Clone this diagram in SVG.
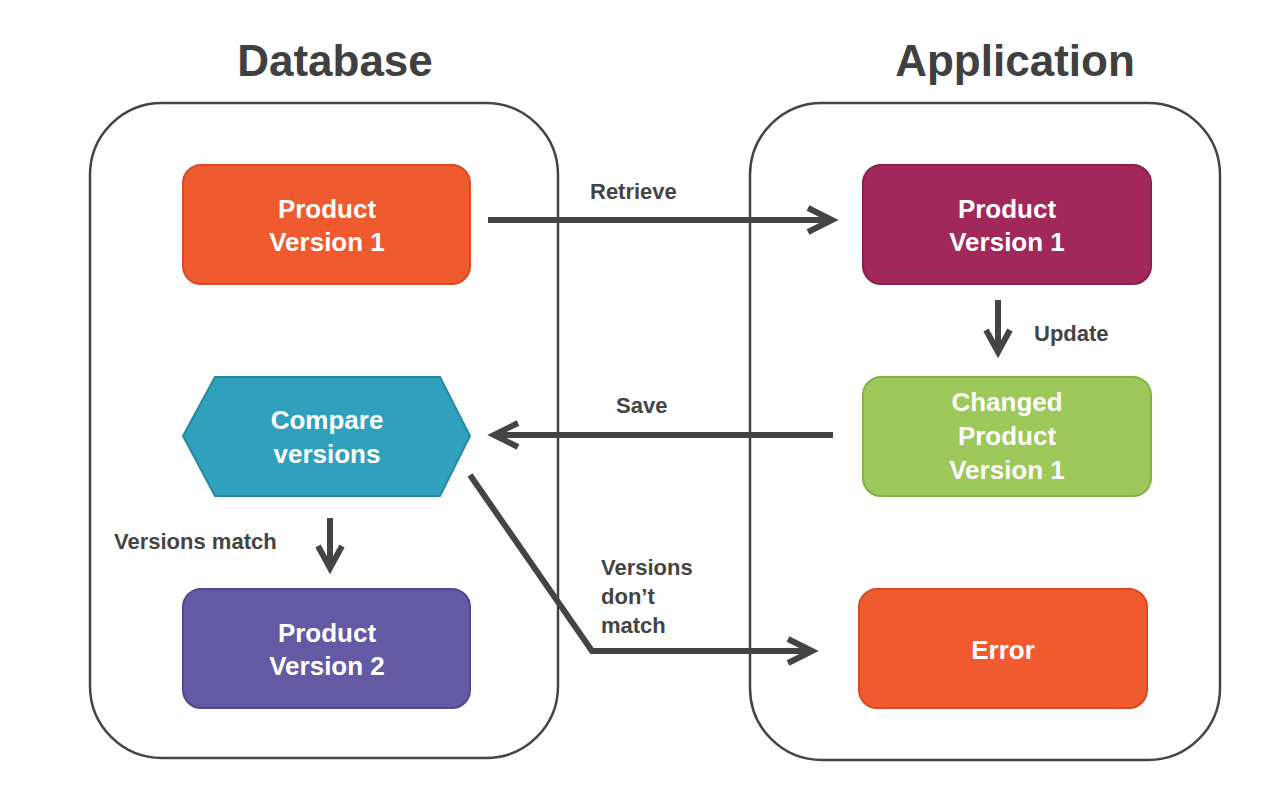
<svg xmlns="http://www.w3.org/2000/svg" width="1286" height="796" viewBox="0 0 1286 796">
<style>
text{font-family:"Liberation Sans",Arial,sans-serif;font-weight:bold}
.t{font-size:44px;fill:#404040;text-anchor:middle}
.n{font-size:26px;fill:#fff;text-anchor:middle}
.l{font-size:22px;fill:#444}
.c{fill:none;stroke:#444;stroke-width:2.5}
.e{fill:none;stroke:#444;stroke-width:6}
.h{fill:none;stroke:#444;stroke-width:6;stroke-linejoin:miter}
</style>
<rect width="1286" height="796" fill="#fff"/>
<text class="t" x="335" y="76">Database</text>
<text class="t" x="1015" y="76">Application</text>
<rect class="c" x="90" y="103" width="468" height="655" rx="72"/>
<rect class="c" x="750" y="103" width="470" height="657" rx="72"/>
<g id="connectors">
<path class="e" d="M488 220H830"/><path class="h" d="M808 208L832 220L808 232"/>
<path class="e" d="M833 435H496"/><path class="h" d="M518 423L494 435L518 447"/>
<path class="e" d="M998 300V350"/><path class="h" d="M986 330L998 352L1010 330"/>
<path class="e" d="M330 518V566"/><path class="h" d="M318 546L330 568L342 546"/>
<path class="e" d="M470 475L592 651H808"/><path class="h" d="M788 639L812 651L788 663"/>
<text class="l" x="590" y="199">Retrieve</text>
<text class="l" x="616" y="413">Save</text>
<text class="l" x="1034" y="341">Update</text>
<text class="l" x="114" y="549">Versions match</text>
<text class="l" x="601" y="575">Versions</text>
<text class="l" x="601" y="604">don’t</text>
<text class="l" x="601" y="633">match</text>
</g>
<g id="db-pv1"><rect x="183" y="165" width="287" height="119" rx="18" fill="#ef5a2f" stroke="#d94a22" stroke-width="2"/><text class="n" x="327" y="218">Product</text><text class="n" x="327" y="251">Version 1</text></g>
<g id="compare"><polygon points="183,436 215,377 440,377 470,436 440,496 215,496" fill="#31a0bd" stroke="#2689a3" stroke-width="2"/><text class="n" x="327" y="429">Compare</text><text class="n" x="327" y="463">versions</text></g>
<g id="db-pv2"><rect x="183" y="589" width="287" height="119" rx="18" fill="#6459a3" stroke="#524893" stroke-width="2"/><text class="n" x="327" y="642">Product</text><text class="n" x="327" y="675">Version 2</text></g>
<g id="app-pv1"><rect x="863" y="165" width="288" height="119" rx="18" fill="#a0295a" stroke="#88204b" stroke-width="2"/><text class="n" x="1007" y="218">Product</text><text class="n" x="1007" y="251">Version 1</text></g>
<g id="changed"><rect x="863" y="377" width="288" height="119" rx="18" fill="#9dc85a" stroke="#86b145" stroke-width="2"/><text class="n" x="1007" y="411">Changed</text><text class="n" x="1007" y="445">Product</text><text class="n" x="1007" y="479">Version 1</text></g>
<g id="error"><rect x="859" y="589" width="288" height="119" rx="18" fill="#ef5a2f" stroke="#d94a22" stroke-width="2"/><text class="n" x="1003" y="659">Error</text></g>
</svg>
